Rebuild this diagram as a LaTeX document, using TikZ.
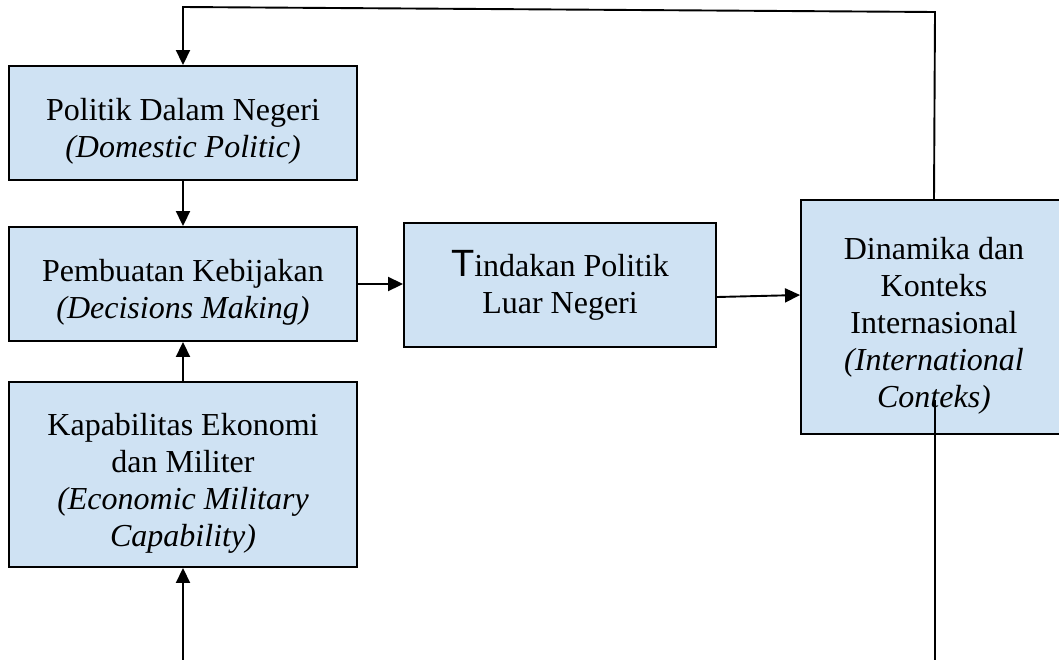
\documentclass[tikz,border=0pt]{standalone}
\usepackage{fontspec}
\setmainfont{Liberation Serif}
\newfontfamily\tfont{Liberation Sans}
\usetikzlibrary{arrows.meta}
\definecolor{boxfill}{RGB}{207,226,243}
\newcommand\topstrut{\rule{0pt}{39pt}}
\tikzset{
  box/.style={draw=black, line width=1.9pt, fill=boxfill, rectangle, align=center,
    font=\fontsize{32}{37}\selectfont, inner sep=0pt},
  conn/.style={line width=1.9pt, draw=black},
  arr/.style={conn, -{Triangle[length=15pt,width=14pt]}}
}
\begin{document}
\begin{tikzpicture}[x=1pt,y=-1pt]
\useasboundingbox (0,0) rectangle (1059,659);
\clip (0,0) rectangle (1059,659);
\node[box, minimum width=348pt, minimum height=114pt] (b1) at (183,123)
  {\topstrut Politik Dalam Negeri\\\textit{(Domestic Politic)}};
\node[box, minimum width=348pt, minimum height=114pt] (b2) at (183,284)
  {\topstrut Pembuatan Kebijakan\\\textit{(Decisions Making)}};
\node[box, minimum width=348pt, minimum height=185pt] (b3) at (183,474.5)
  {\topstrut Kapabilitas Ekonomi\\dan Militer\\\textit{(Economic Military}\\\textit{Capability)}};
\node[box, minimum width=312pt, minimum height=124pt] (b4) at (560,285)
  {{\tfont\fontsize{38}{37}\selectfont T}indakan Politik\\Luar Negeri};
\node[box, minimum width=266pt, minimum height=234pt] (b5) at (934,317)
  {\topstrut Dinamika dan\\Konteks\\Internasional\\\textit{(International}\\\textit{Conteks)}};
\coordinate (tr) at (935,12);
\coordinate (tl) at (183,7);
\coordinate (bl) at (183,662);
\coordinate (br1) at (935,400);
\coordinate (br2) at (935,662);
\draw[arr] (b5.north) -- (tr) -- (tl) -- (b1.north);
\draw[arr] (b1.south) -- (b2.north);
\draw[arr] (b3.north) -- (b2.south);
\draw[arr] (bl) -- (b3.south);
\draw[arr] (b2.east) -- (b2.east -| b4.west);
\draw[arr] ([yshift=-12pt]b4.east) -- ([yshift=22pt]b5.west);
\draw[conn] (br1) -- (br2);
\end{tikzpicture}
\end{document}
